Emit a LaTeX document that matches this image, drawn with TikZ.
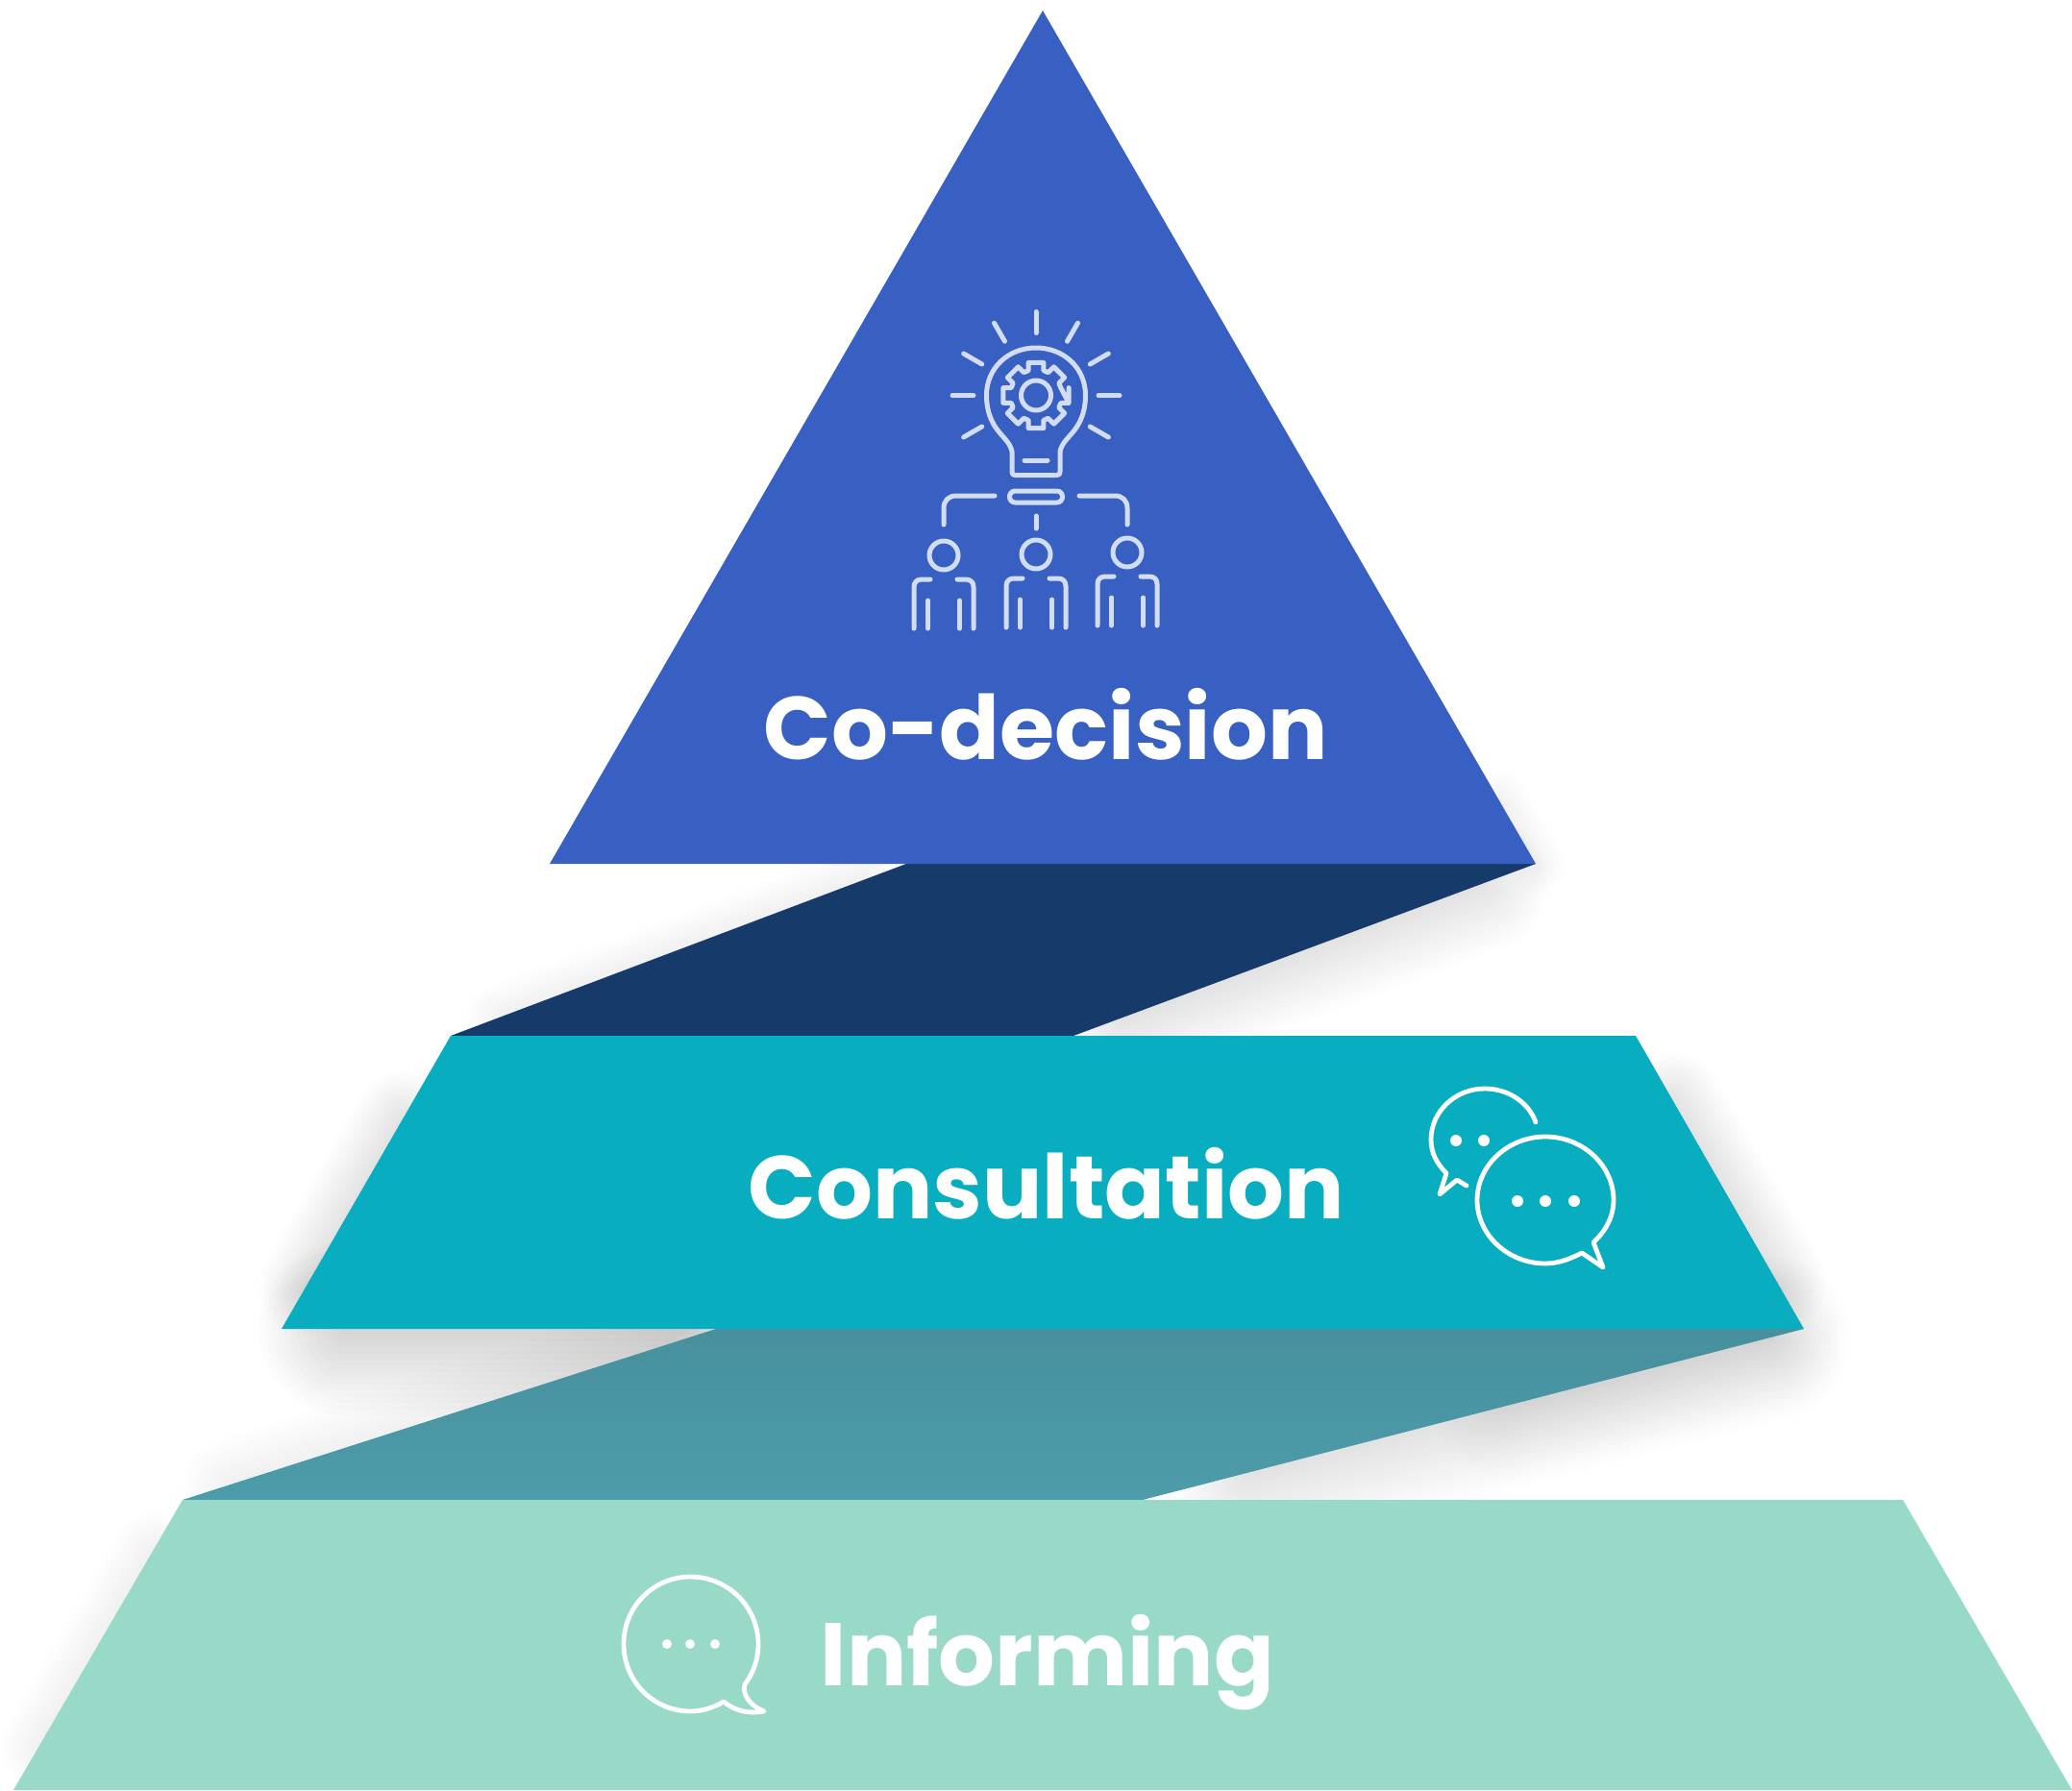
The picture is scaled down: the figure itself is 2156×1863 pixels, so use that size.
\documentclass[tikz,border=0pt]{standalone}
\usepackage{fontspec}
\setmainfont{Poppins}
\usetikzlibrary{calc}
\definecolor{cblue}{HTML}{3860C2}
\definecolor{cnavy}{HTML}{163B6B}
\definecolor{cteal}{HTML}{08ADC0}
\definecolor{cbandtop}{HTML}{47909E}
\definecolor{cbandbot}{HTML}{4D9CAA}
\definecolor{cmint}{HTML}{98D9C8}
\definecolor{cicon}{HTML}{D3DDF1}
\tikzset{
  x=0.5pt,y=-0.5pt,
  label text/.style={font=\bfseries\fontsize{46.3}{47}\selectfont,text=white,inner sep=0pt,anchor=base},
  iconline/.style={draw=cicon,line width=2.5pt,line cap=round,line join=round},
  bubble/.style={draw=white,line width=2.4pt,line cap=round,line join=round},
  dotw/.style={fill=white,draw=none}
}
\newcommand{\softline}[4]{%
  \foreach \k in {1,...,14}{
    \pgfmathsetmacro{\wid}{#3*\k/14}
    \draw[black,opacity=#4,line cap=round,line width=\wid pt] #1 -- #2;
  }
}
\newcommand{\person}[2]{%
  \draw[iconline] (#1,#2) circle (15);
  \draw[iconline] (#1-31,#2+76) -- (#1-31,#2+33) .. controls (#1-31,#2+28) and (#1-28,#2+25) .. (#1-23,#2+25) -- (#1-14,#2+25);
  \draw[iconline] (#1+31,#2+76) -- (#1+31,#2+33) .. controls (#1+31,#2+28) and (#1+28,#2+25) .. (#1+23,#2+25) -- (#1+14,#2+25);
  \draw[iconline] (#1-16.5,#2+47) -- (#1-16.5,#2+76);
  \draw[iconline] (#1+16.5,#2+47) -- (#1+16.5,#2+76);
}
\begin{document}
\begin{tikzpicture}
\useasboundingbox (0,0) rectangle (2156,1863);
\fill[white] (0,0) rectangle (2156,1863);
\begin{scope}
\clip (0,0) rectangle (2156,1863);
\softline{(360,1383)}{(720,1383)}{90}{0.010}
\softline{(320,1340)}{(420,1165)}{50}{0.009}
\softline{(1740,1145)}{(1850,1335)}{50}{0.007}
\softline{(1840,1393)}{(1300,1532)}{85}{0.006}
\softline{(1840,1393)}{(1560,1465)}{70}{0.004}
\softline{(1540,920)}{(1170,1058)}{70}{0.006}
\softline{(520,1059)}{(900,915)}{35}{0.002}
\softline{(240,1545)}{(700,1397)}{50}{0.002}
\softline{(40,1818)}{(160,1612)}{40}{0.004}
\softline{(1560,833)}{(1598,899)}{30}{0.002}
\end{scope}
\fill[cnavy] (943,899) -- (1598,899) -- (1117,1078) -- (469,1078) -- cycle;
\shade[top color=cbandtop,bottom color=cbandbot] (745,1383) -- (1877,1383) -- (1189,1561) -- (190,1561) -- cycle;
\fill[cblue] (1085,11) -- (1598,899) -- (572,899) -- cycle;
\fill[cteal] (469,1078) -- (1702,1078) -- (1877,1383) -- (293,1383) -- cycle;
\fill[cmint] (190,1561) -- (1980,1561) -- (2156,1863) -- (14,1863) -- cycle;
\node[label text] (t1) at (1088,790) {Co-decision};
\node[label text] (t2) at (1089,1268) {Consultation};
\node[label text] (t3) at (1090,1754) {Informing};
\foreach \a in {-90,-60,-30,0,30,-120,-150,180,150}{
  \draw[iconline] ($(1078,411.5)+(\a:65)$) -- ($(1078,411.5)+(\a:87)$);
}
\draw[iconline] (1053,470) .. controls (1051,460) and (1043,455) .. (1036,445) .. controls (1030,436) and (1026.5,425) .. (1026.5,411.5) .. controls (1026.5,383) and (1049,362) .. (1078,362) .. controls (1107,362) and (1129.5,383) .. (1129.5,411.5) .. controls (1129.5,425) and (1126,436) .. (1120,445) .. controls (1113,455) and (1105,460) .. (1103,470) -- (1103,491) .. controls (1103,494) and (1102,494.5) .. (1099,494.5) -- (1057,494.5) .. controls (1054,494.5) and (1053,494) .. (1053,491) -- cycle;
\draw[iconline] (1066,479) -- (1090,479);
\draw[iconline] (1078,411.5) circle (15.5);
\draw[iconline] (13:35)++(1078,411.5)
  \foreach \k in {0,45,...,315}{
    -- ($(1078,411.5)+(\k-13:35)$) -- ($(1078,411.5)+(\k+13:35)$) -- ($(1078,411.5)+(\k+17:27)$) -- ($(1078,411.5)+(\k+28:27)$)
  } -- cycle;
\draw[iconline,rounded corners=2.9pt] (1050.5,511) rectangle (1105.5,523);
\draw[iconline] (982,546) -- (982,529) .. controls (982,521) and (987,516) .. (995,516) -- (1035,516);
\draw[iconline] (1173,546) -- (1173,529) .. controls (1173,521) and (1168,516) .. (1160,516) -- (1123,516);
\draw[iconline] (1078,537) -- (1078,550);
\person{982}{578}
\person{1078}{577}
\person{1173}{575}
\draw[bubble] (1598,1168) .. controls (1591,1148) and (1570,1133) .. (1545,1133) .. controls (1514,1133) and (1489,1157) .. (1489,1186) .. controls (1489,1200) and (1495,1211) .. (1505,1221) -- (1498,1243) -- (1516,1228) -- (1526,1234);
\foreach \p in {1515,1544}{ \fill[dotw] (\p,1187) circle (6); }
\draw[bubble] (1658,1293) .. controls (1671,1281) and (1679,1266) .. (1679,1249) .. controls (1679,1213) and (1647,1183) .. (1608,1183) .. controls (1569,1183) and (1537,1213) .. (1537,1249) .. controls (1537,1285) and (1569,1315) .. (1608,1315) .. controls (1622,1315) and (1634,1310) .. (1646,1304) -- (1668,1319) -- cycle;
\foreach \p in {1579,1608,1638}{ \fill[dotw] (\p,1250) circle (6); }
\draw[bubble] (775,1753) .. controls (784,1741) and (789,1727) .. (789,1711) .. controls (789,1672) and (757,1641) .. (718.5,1641) .. controls (680,1641) and (649,1672) .. (649,1711) .. controls (649,1750) and (680,1781) .. (718.5,1781) .. controls (731,1781) and (743,1777) .. (753,1771) .. controls (765,1781) and (780,1784) .. (795,1781) .. controls (782,1776) and (772,1765) .. (775,1753) -- cycle;
\foreach \p in {694,718,744}{ \fill[dotw] (\p,1711) circle (5); }
\end{tikzpicture}
\end{document}
